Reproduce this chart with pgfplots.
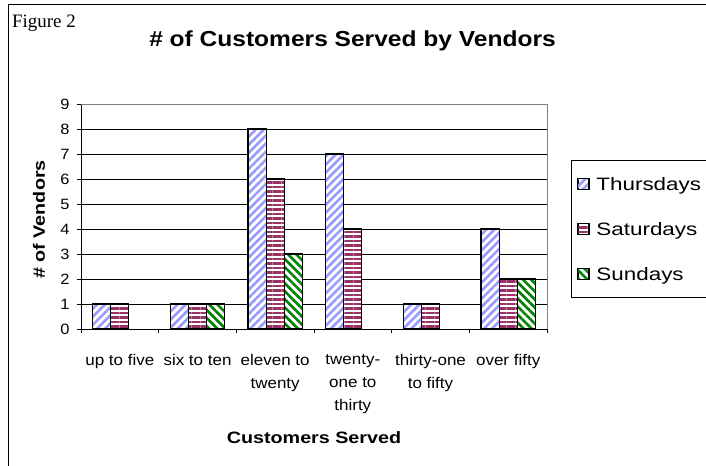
\documentclass[border=0pt]{standalone}
\usepackage{pgfplots}
\pgfplotsset{compat=1.18}
\usepackage{fontspec}
\setmainfont{Liberation Sans}
\newfontfamily\titlefont{Liberation Sans}[FakeStretch=1.13]
\newfontfamily\labfont{Liberation Sans}[FakeStretch=1.2]
\newfontfamily\tickfont{Liberation Sans}[FakeStretch=1.1]
\newfontfamily\legfont{Liberation Sans}[FakeStretch=1.25]
\newfontfamily\figfont{Liberation Serif}
\usetikzlibrary{patterns.meta}
\definecolor{thu}{HTML}{9999FF}
\definecolor{sat}{HTML}{993366}
\definecolor{sun}{HTML}{008000}
\definecolor{frame}{HTML}{808080}
\newcommand{\legtxt}[1]{\makebox[118bp][l]{#1}}
\pgfplotsset{
  sq legend/.style={legend image code/.code={\draw[##1,draw=black,line width=1bp] (0bp,-5.5bp) rectangle (11bp,5.5bp);}},
}
\begin{document}
\begin{tikzpicture}
\useasboundingbox (0bp,0bp) rectangle (706bp,466bp);
\draw[line width=1bp] (8bp,-20bp) -- (8bp,461bp) -- (730bp,461bp);
\node[anchor=base west, inner sep=0pt, font=\figfont\fontsize{19}{22}\selectfont] at (12bp,438bp) {Figure 2};
\node[anchor=base, inner sep=0pt, font=\titlefont\bfseries\fontsize{21.8}{24}\selectfont] at (352.5bp,419bp) {\# of Customers Served by Vendors};
\begin{axis}[
  at={(81bp,137bp)}, anchor=south west,
  width=466bp, height=225bp, scale only axis,
  xmin=-0.5, xmax=5.5, ymin=0, ymax=9,
  ytick={0,...,9},
  ymajorgrids, grid style={black, line width=0.9bp},
  xtick={-0.5,0.5,...,5.5}, xticklabels={},
  extra x ticks={0,1,2,3,4,5},
  extra x tick labels={up to five,six to ten,{eleven to\\twenty},{twenty-\\one to\\thirty},{thirty-one\\to fifty},over fifty},
  extra x tick style={major tick length=0pt, grid=none},
  tick align=outside, major tick length=4bp,
  tick style={black, line width=0.9bp},
  axis x line*=bottom, axis y line*=left,
  axis line style={black, line width=0.9bp},
  /pgf/number format/assume math mode=true,
  xticklabel style={font=\tickfont\fontsize{15.5}{23}\selectfont, align=center, yshift=-22bp},
  yticklabel style={font=\tickfont\fontsize{15}{18}\selectfont, xshift=-4bp},
  xlabel={Customers Served},
  xlabel style={at={(axis description cs:0.5,-0.5067)}, anchor=base, inner sep=0pt, font=\labfont\bfseries\fontsize{16.5}{20}\selectfont},
  ylabel={\# of Vendors},
  ylabel style={at={(axis description cs:-0.0773,0.4867)}, anchor=base, inner sep=0pt, font=\labfont\bfseries\fontsize{16.5}{20}\selectfont},
  legend style={at={(axis description cs:1.0515,0.7511)}, anchor=north west,
    draw=black, line width=0.9bp, inner xsep=6bp, inner ysep=1bp,
    column sep=7bp, row sep=0pt,
    font=\legfont\fontsize{18}{20}\selectfont,
    nodes={inner sep=0pt, minimum height=45bp, text height=12.8bp, text depth=0pt}},
  legend cell align=left,
  after end axis/.code={\draw[frame, line width=0.9bp] (rel axis cs:0,1) -- (rel axis cs:1,1) -- (rel axis cs:1,0);},
]
\addplot[ybar, bar width=0.233, bar shift=-0.233, draw=black, line width=1.1bp, preaction={fill=white},
  pattern={Lines[angle=45,distance=5.7bp,line width=2.6bp]}, pattern color=thu, sq legend]
  coordinates {(0,1) (1,1) (2,8) (3,7) (4,1) (5,4)};
\addlegendentry{\legtxt{Thursdays}}
\addplot[ybar, bar width=0.233, bar shift=0, draw=black, line width=1.1bp, preaction={fill=white},
  pattern={Lines[angle=0,distance=4.5bp,line width=2.5bp]}, pattern color=sat, sq legend]
  coordinates {(0,1) (1,1) (2,6) (3,4) (4,1) (5,2)};
\addlegendentry{\legtxt{Saturdays}}
\addplot[ybar, bar width=0.233, bar shift=0.233, draw=black, line width=1.1bp, preaction={fill=white},
  pattern={Lines[angle=-45,distance=5.7bp,line width=2.6bp]}, pattern color=sun, sq legend]
  coordinates {(1,1) (2,3) (5,2)};
\addlegendentry{\legtxt{Sundays}}
\end{axis}
\end{tikzpicture}
\end{document}
